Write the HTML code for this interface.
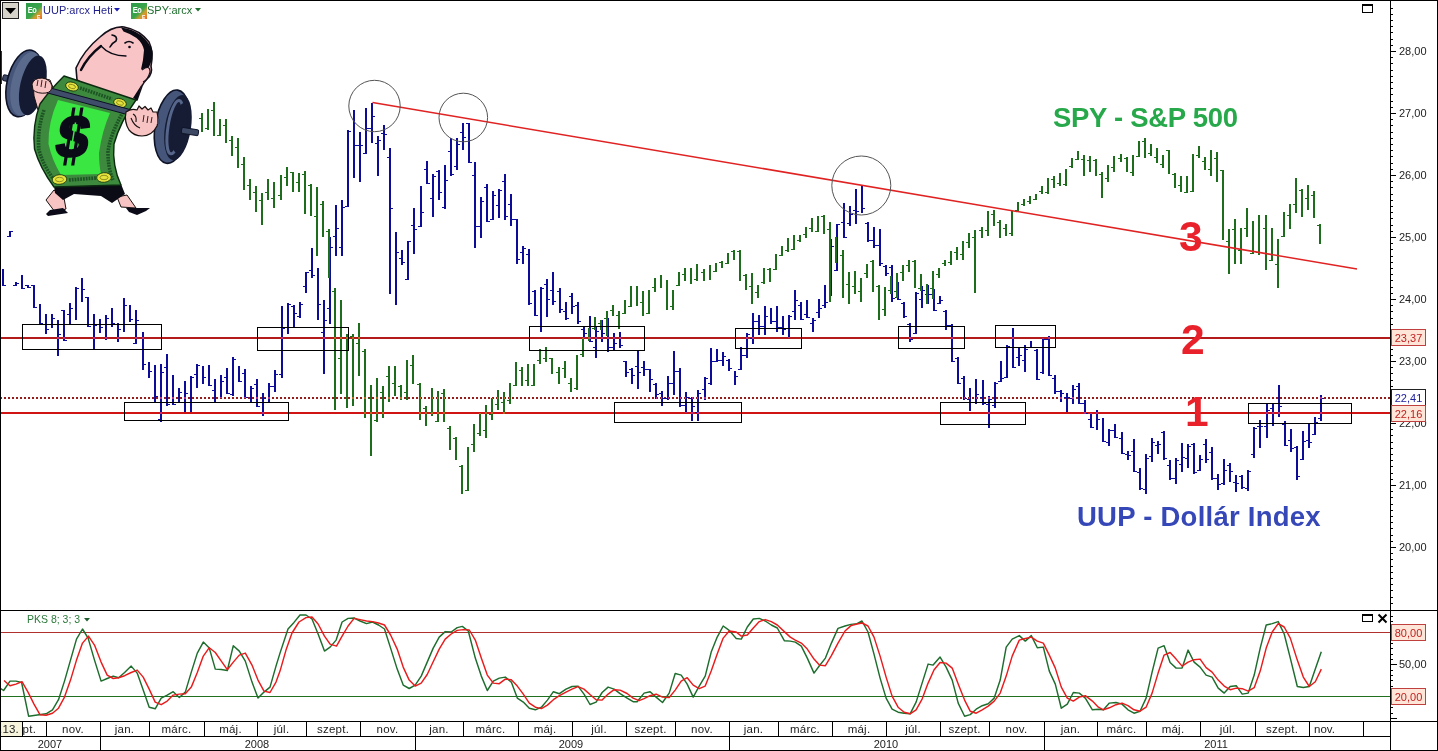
<!DOCTYPE html>
<html><head><meta charset="utf-8"><title>chart</title>
<style>
html,body{margin:0;padding:0;background:#fff;}
body{width:1438px;height:751px;position:relative;overflow:hidden;font-family:"Liberation Sans",sans-serif;}
.t{position:absolute;white-space:nowrap;line-height:1.15;}
.b{position:absolute;left:1391px;width:33px;height:15px;border:1px solid;font-size:11px;line-height:16px;text-align:center;white-space:nowrap;}
.m{position:absolute;font-size:11.5px;line-height:14px;color:#222;text-align:center;white-space:nowrap;}
</style></head><body><div id="root" style="position:absolute;left:0;top:0;width:1438px;height:751px;will-change:transform;background:#fff">
<svg width="1438" height="751" viewBox="0 0 1438 751" style="position:absolute;left:0;top:0"><g shape-rendering="crispEdges"><rect x="1" y="337" width="1389" height="2" fill="#b41a1a"/><rect x="1" y="412" width="1389" height="2" fill="#d01414"/><path d="M0 397h2v2h-2zM4 397h2v2h-2zM8 397h2v2h-2zM12 397h2v2h-2zM16 397h2v2h-2zM20 397h2v2h-2zM24 397h2v2h-2zM28 397h2v2h-2zM32 397h2v2h-2zM36 397h2v2h-2zM40 397h2v2h-2zM44 397h2v2h-2zM48 397h2v2h-2zM52 397h2v2h-2zM56 397h2v2h-2zM60 397h2v2h-2zM64 397h2v2h-2zM68 397h2v2h-2zM72 397h2v2h-2zM76 397h2v2h-2zM80 397h2v2h-2zM84 397h2v2h-2zM88 397h2v2h-2zM92 397h2v2h-2zM96 397h2v2h-2zM100 397h2v2h-2zM104 397h2v2h-2zM108 397h2v2h-2zM112 397h2v2h-2zM116 397h2v2h-2zM120 397h2v2h-2zM124 397h2v2h-2zM128 397h2v2h-2zM132 397h2v2h-2zM136 397h2v2h-2zM140 397h2v2h-2zM144 397h2v2h-2zM148 397h2v2h-2zM152 397h2v2h-2zM156 397h2v2h-2zM160 397h2v2h-2zM164 397h2v2h-2zM168 397h2v2h-2zM172 397h2v2h-2zM176 397h2v2h-2zM180 397h2v2h-2zM184 397h2v2h-2zM188 397h2v2h-2zM192 397h2v2h-2zM196 397h2v2h-2zM200 397h2v2h-2zM204 397h2v2h-2zM208 397h2v2h-2zM212 397h2v2h-2zM216 397h2v2h-2zM220 397h2v2h-2zM224 397h2v2h-2zM228 397h2v2h-2zM232 397h2v2h-2zM236 397h2v2h-2zM240 397h2v2h-2zM244 397h2v2h-2zM248 397h2v2h-2zM252 397h2v2h-2zM256 397h2v2h-2zM260 397h2v2h-2zM264 397h2v2h-2zM268 397h2v2h-2zM272 397h2v2h-2zM276 397h2v2h-2zM280 397h2v2h-2zM284 397h2v2h-2zM288 397h2v2h-2zM292 397h2v2h-2zM296 397h2v2h-2zM300 397h2v2h-2zM304 397h2v2h-2zM308 397h2v2h-2zM312 397h2v2h-2zM316 397h2v2h-2zM320 397h2v2h-2zM324 397h2v2h-2zM328 397h2v2h-2zM332 397h2v2h-2zM336 397h2v2h-2zM340 397h2v2h-2zM344 397h2v2h-2zM348 397h2v2h-2zM352 397h2v2h-2zM356 397h2v2h-2zM360 397h2v2h-2zM364 397h2v2h-2zM368 397h2v2h-2zM372 397h2v2h-2zM376 397h2v2h-2zM380 397h2v2h-2zM384 397h2v2h-2zM388 397h2v2h-2zM392 397h2v2h-2zM396 397h2v2h-2zM400 397h2v2h-2zM404 397h2v2h-2zM408 397h2v2h-2zM412 397h2v2h-2zM416 397h2v2h-2zM420 397h2v2h-2zM424 397h2v2h-2zM428 397h2v2h-2zM432 397h2v2h-2zM436 397h2v2h-2zM440 397h2v2h-2zM444 397h2v2h-2zM448 397h2v2h-2zM452 397h2v2h-2zM456 397h2v2h-2zM460 397h2v2h-2zM464 397h2v2h-2zM468 397h2v2h-2zM472 397h2v2h-2zM476 397h2v2h-2zM480 397h2v2h-2zM484 397h2v2h-2zM488 397h2v2h-2zM492 397h2v2h-2zM496 397h2v2h-2zM500 397h2v2h-2zM504 397h2v2h-2zM508 397h2v2h-2zM512 397h2v2h-2zM516 397h2v2h-2zM520 397h2v2h-2zM524 397h2v2h-2zM528 397h2v2h-2zM532 397h2v2h-2zM536 397h2v2h-2zM540 397h2v2h-2zM544 397h2v2h-2zM548 397h2v2h-2zM552 397h2v2h-2zM556 397h2v2h-2zM560 397h2v2h-2zM564 397h2v2h-2zM568 397h2v2h-2zM572 397h2v2h-2zM576 397h2v2h-2zM580 397h2v2h-2zM584 397h2v2h-2zM588 397h2v2h-2zM592 397h2v2h-2zM596 397h2v2h-2zM600 397h2v2h-2zM604 397h2v2h-2zM608 397h2v2h-2zM612 397h2v2h-2zM616 397h2v2h-2zM620 397h2v2h-2zM624 397h2v2h-2zM628 397h2v2h-2zM632 397h2v2h-2zM636 397h2v2h-2zM640 397h2v2h-2zM644 397h2v2h-2zM648 397h2v2h-2zM652 397h2v2h-2zM656 397h2v2h-2zM660 397h2v2h-2zM664 397h2v2h-2zM668 397h2v2h-2zM672 397h2v2h-2zM676 397h2v2h-2zM680 397h2v2h-2zM684 397h2v2h-2zM688 397h2v2h-2zM692 397h2v2h-2zM696 397h2v2h-2zM700 397h2v2h-2zM704 397h2v2h-2zM708 397h2v2h-2zM712 397h2v2h-2zM716 397h2v2h-2zM720 397h2v2h-2zM724 397h2v2h-2zM728 397h2v2h-2zM732 397h2v2h-2zM736 397h2v2h-2zM740 397h2v2h-2zM744 397h2v2h-2zM748 397h2v2h-2zM752 397h2v2h-2zM756 397h2v2h-2zM760 397h2v2h-2zM764 397h2v2h-2zM768 397h2v2h-2zM772 397h2v2h-2zM776 397h2v2h-2zM780 397h2v2h-2zM784 397h2v2h-2zM788 397h2v2h-2zM792 397h2v2h-2zM796 397h2v2h-2zM800 397h2v2h-2zM804 397h2v2h-2zM808 397h2v2h-2zM812 397h2v2h-2zM816 397h2v2h-2zM820 397h2v2h-2zM824 397h2v2h-2zM828 397h2v2h-2zM832 397h2v2h-2zM836 397h2v2h-2zM840 397h2v2h-2zM844 397h2v2h-2zM848 397h2v2h-2zM852 397h2v2h-2zM856 397h2v2h-2zM860 397h2v2h-2zM864 397h2v2h-2zM868 397h2v2h-2zM872 397h2v2h-2zM876 397h2v2h-2zM880 397h2v2h-2zM884 397h2v2h-2zM888 397h2v2h-2zM892 397h2v2h-2zM896 397h2v2h-2zM900 397h2v2h-2zM904 397h2v2h-2zM908 397h2v2h-2zM912 397h2v2h-2zM916 397h2v2h-2zM920 397h2v2h-2zM924 397h2v2h-2zM928 397h2v2h-2zM932 397h2v2h-2zM936 397h2v2h-2zM940 397h2v2h-2zM944 397h2v2h-2zM948 397h2v2h-2zM952 397h2v2h-2zM956 397h2v2h-2zM960 397h2v2h-2zM964 397h2v2h-2zM968 397h2v2h-2zM972 397h2v2h-2zM976 397h2v2h-2zM980 397h2v2h-2zM984 397h2v2h-2zM988 397h2v2h-2zM992 397h2v2h-2zM996 397h2v2h-2zM1000 397h2v2h-2zM1004 397h2v2h-2zM1008 397h2v2h-2zM1012 397h2v2h-2zM1016 397h2v2h-2zM1020 397h2v2h-2zM1024 397h2v2h-2zM1028 397h2v2h-2zM1032 397h2v2h-2zM1036 397h2v2h-2zM1040 397h2v2h-2zM1044 397h2v2h-2zM1048 397h2v2h-2zM1052 397h2v2h-2zM1056 397h2v2h-2zM1060 397h2v2h-2zM1064 397h2v2h-2zM1068 397h2v2h-2zM1072 397h2v2h-2zM1076 397h2v2h-2zM1080 397h2v2h-2zM1084 397h2v2h-2zM1088 397h2v2h-2zM1092 397h2v2h-2zM1096 397h2v2h-2zM1100 397h2v2h-2zM1104 397h2v2h-2zM1108 397h2v2h-2zM1112 397h2v2h-2zM1116 397h2v2h-2zM1120 397h2v2h-2zM1124 397h2v2h-2zM1128 397h2v2h-2zM1132 397h2v2h-2zM1136 397h2v2h-2zM1140 397h2v2h-2zM1144 397h2v2h-2zM1148 397h2v2h-2zM1152 397h2v2h-2zM1156 397h2v2h-2zM1160 397h2v2h-2zM1164 397h2v2h-2zM1168 397h2v2h-2zM1172 397h2v2h-2zM1176 397h2v2h-2zM1180 397h2v2h-2zM1184 397h2v2h-2zM1188 397h2v2h-2zM1192 397h2v2h-2zM1196 397h2v2h-2zM1200 397h2v2h-2zM1204 397h2v2h-2zM1208 397h2v2h-2zM1212 397h2v2h-2zM1216 397h2v2h-2zM1220 397h2v2h-2zM1224 397h2v2h-2zM1228 397h2v2h-2zM1232 397h2v2h-2zM1236 397h2v2h-2zM1240 397h2v2h-2zM1244 397h2v2h-2zM1248 397h2v2h-2zM1252 397h2v2h-2zM1256 397h2v2h-2zM1260 397h2v2h-2zM1264 397h2v2h-2zM1268 397h2v2h-2zM1272 397h2v2h-2zM1276 397h2v2h-2zM1280 397h2v2h-2zM1284 397h2v2h-2zM1288 397h2v2h-2zM1292 397h2v2h-2zM1296 397h2v2h-2zM1300 397h2v2h-2zM1304 397h2v2h-2zM1308 397h2v2h-2zM1312 397h2v2h-2zM1316 397h2v2h-2zM1320 397h2v2h-2zM1324 397h2v2h-2zM1328 397h2v2h-2zM1332 397h2v2h-2zM1336 397h2v2h-2zM1340 397h2v2h-2zM1344 397h2v2h-2zM1348 397h2v2h-2zM1352 397h2v2h-2zM1356 397h2v2h-2zM1360 397h2v2h-2zM1364 397h2v2h-2zM1368 397h2v2h-2zM1372 397h2v2h-2zM1376 397h2v2h-2zM1380 397h2v2h-2zM1384 397h2v2h-2zM1388 397h2v2h-2z" fill="#961c1c"/><path d="M2 269h2V286h-2zM4 285h2v1h-2zM9 231h2V237h-2zM7 236h2v1h-2zM11 231h2v1h-2zM15 282h2V286h-2zM13 285h2v1h-2zM17 283h2v1h-2zM21 275h2V289h-2zM23 288h2v1h-2zM27 285h2V288h-2zM25 285h2v1h-2zM29 287h2v1h-2zM33 285h2V308h-2zM31 285h2v1h-2zM35 307h2v1h-2zM39 304h2V324h-2zM41 323h2v1h-2zM45 314h2V334h-2zM47 329h2v1h-2zM51 314h2V328h-2zM53 318h2v1h-2zM57 320h2V356h-2zM59 334h2v1h-2zM63 310h2V341h-2zM61 310h2v1h-2zM65 340h2v1h-2zM69 303h2V324h-2zM67 314h2v1h-2zM71 308h2v1h-2zM75 287h2V320h-2zM77 288h2v1h-2zM81 278h2V302h-2zM83 289h2v1h-2zM87 297h2V327h-2zM85 297h2v1h-2zM89 326h2v1h-2zM93 314h2V349h-2zM95 325h2v1h-2zM99 319h2V333h-2zM101 327h2v1h-2zM105 315h2V340h-2zM107 318h2v1h-2zM111 308h2V327h-2zM113 323h2v1h-2zM117 323h2V342h-2zM119 329h2v1h-2zM123 298h2V332h-2zM125 305h2v1h-2zM129 305h2V322h-2zM131 319h2v1h-2zM135 310h2V344h-2zM133 343h2v1h-2zM137 320h2v1h-2zM142 332h2V370h-2zM144 364h2v1h-2zM148 362h2V378h-2zM150 371h2v1h-2zM154 365h2V402h-2zM156 396h2v1h-2zM160 364h2V422h-2zM158 419h2v1h-2zM162 372h2v1h-2zM166 354h2V406h-2zM164 367h2v1h-2zM168 404h2v1h-2zM172 375h2V405h-2zM174 404h2v1h-2zM178 388h2V402h-2zM180 392h2v1h-2zM184 381h2V412h-2zM186 393h2v1h-2zM190 376h2V412h-2zM192 377h2v1h-2zM196 364h2V388h-2zM194 374h2v1h-2zM198 365h2v1h-2zM202 366h2V384h-2zM204 377h2v1h-2zM208 365h2V386h-2zM210 385h2v1h-2zM214 379h2V403h-2zM212 390h2v1h-2zM216 402h2v1h-2zM220 375h2V398h-2zM222 381h2v1h-2zM226 368h2V394h-2zM224 377h2v1h-2zM228 393h2v1h-2zM232 357h2V396h-2zM230 394h2v1h-2zM234 359h2v1h-2zM238 366h2V382h-2zM240 381h2v1h-2zM244 369h2V398h-2zM242 373h2v1h-2zM246 397h2v1h-2zM250 386h2V402h-2zM252 388h2v1h-2zM256 379h2V407h-2zM254 384h2v1h-2zM258 406h2v1h-2zM262 393h2V416h-2zM264 398h2v1h-2zM268 383h2V402h-2zM270 386h2v1h-2zM274 370h2V392h-2zM272 386h2v1h-2zM276 374h2v1h-2zM281 306h2V378h-2zM279 374h2v1h-2zM283 328h2v1h-2zM287 303h2V334h-2zM285 327h2v1h-2zM289 304h2v1h-2zM293 305h2V327h-2zM291 306h2v1h-2zM295 313h2v1h-2zM299 302h2V318h-2zM297 316h2v1h-2zM301 304h2v1h-2zM305 272h2V293h-2zM303 286h2v1h-2zM307 272h2v1h-2zM311 248h2V278h-2zM309 270h2v1h-2zM313 275h2v1h-2zM317 268h2V320h-2zM319 304h2v1h-2zM323 300h2V374h-2zM321 332h2v1h-2zM325 320h2v1h-2zM329 237h2V324h-2zM327 308h2v1h-2zM331 247h2v1h-2zM335 205h2V256h-2zM333 236h2v1h-2zM337 228h2v1h-2zM341 200h2V256h-2zM339 247h2v1h-2zM343 207h2v1h-2zM347 130h2V207h-2zM345 206h2v1h-2zM349 131h2v1h-2zM353 110h2V178h-2zM355 145h2v1h-2zM359 132h2V182h-2zM357 145h2v1h-2zM361 145h2v1h-2zM365 108h2V154h-2zM363 153h2v1h-2zM367 128h2v1h-2zM371 103h2V143h-2zM369 128h2v1h-2zM373 116h2v1h-2zM377 136h2V176h-2zM375 143h2v1h-2zM379 140h2v1h-2zM383 125h2V150h-2zM381 133h2v1h-2zM385 134h2v1h-2zM389 148h2V294h-2zM387 157h2v1h-2zM391 208h2v1h-2zM395 232h2V305h-2zM397 252h2v1h-2zM401 250h2V265h-2zM399 258h2v1h-2zM403 262h2v1h-2zM407 241h2V280h-2zM405 279h2v1h-2zM409 241h2v1h-2zM413 208h2V254h-2zM411 225h2v1h-2zM415 229h2v1h-2zM420 186h2V227h-2zM418 226h2v1h-2zM422 212h2v1h-2zM426 161h2V184h-2zM424 169h2v1h-2zM428 183h2v1h-2zM432 174h2V217h-2zM430 198h2v1h-2zM434 176h2v1h-2zM438 170h2V200h-2zM436 171h2v1h-2zM440 192h2v1h-2zM444 165h2V209h-2zM442 207h2v1h-2zM446 180h2v1h-2zM450 138h2V176h-2zM448 151h2v1h-2zM452 174h2v1h-2zM456 138h2V170h-2zM454 166h2v1h-2zM458 144h2v1h-2zM462 123h2V150h-2zM460 132h2v1h-2zM464 137h2v1h-2zM468 123h2V163h-2zM466 123h2v1h-2zM470 162h2v1h-2zM474 162h2V248h-2zM472 175h2v1h-2zM476 226h2v1h-2zM480 197h2V238h-2zM478 226h2v1h-2zM482 201h2v1h-2zM486 184h2V222h-2zM484 187h2v1h-2zM488 221h2v1h-2zM492 191h2V220h-2zM490 219h2v1h-2zM494 195h2v1h-2zM498 189h2V218h-2zM496 205h2v1h-2zM500 190h2v1h-2zM504 174h2V220h-2zM502 181h2v1h-2zM506 216h2v1h-2zM510 194h2V226h-2zM508 204h2v1h-2zM512 219h2v1h-2zM516 219h2V264h-2zM514 219h2v1h-2zM518 259h2v1h-2zM522 246h2V264h-2zM520 252h2v1h-2zM524 248h2v1h-2zM528 249h2V305h-2zM526 254h2v1h-2zM530 303h2v1h-2zM534 290h2V316h-2zM532 291h2v1h-2zM536 315h2v1h-2zM540 287h2V332h-2zM542 288h2v1h-2zM546 279h2V317h-2zM544 284h2v1h-2zM548 299h2v1h-2zM552 272h2V305h-2zM550 290h2v1h-2zM554 301h2v1h-2zM559 288h2V313h-2zM557 291h2v1h-2zM561 309h2v1h-2zM565 302h2V320h-2zM563 311h2v1h-2zM567 318h2v1h-2zM571 293h2V314h-2zM569 296h2v1h-2zM573 306h2v1h-2zM577 302h2V324h-2zM575 305h2v1h-2zM579 321h2v1h-2zM583 327h2V338h-2zM581 329h2v1h-2zM585 333h2v1h-2zM589 316h2V342h-2zM591 341h2v1h-2zM595 327h2V358h-2zM593 347h2v1h-2zM597 331h2v1h-2zM601 320h2V342h-2zM603 333h2v1h-2zM607 318h2V352h-2zM609 347h2v1h-2zM613 333h2V350h-2zM611 347h2v1h-2zM615 343h2v1h-2zM619 332h2V348h-2zM621 345h2v1h-2zM625 361h2V377h-2zM623 361h2v1h-2zM627 372h2v1h-2zM631 368h2V384h-2zM629 369h2v1h-2zM633 375h2v1h-2zM637 351h2V389h-2zM635 366h2v1h-2zM639 372h2v1h-2zM643 361h2V376h-2zM641 367h2v1h-2zM645 369h2v1h-2zM649 369h2V392h-2zM647 369h2v1h-2zM651 379h2v1h-2zM655 383h2V399h-2zM653 384h2v1h-2zM657 394h2v1h-2zM661 391h2V406h-2zM659 393h2v1h-2zM663 398h2v1h-2zM667 376h2V400h-2zM665 398h2v1h-2zM669 383h2v1h-2zM673 351h2V395h-2zM671 383h2v1h-2zM675 371h2v1h-2zM679 368h2V407h-2zM677 371h2v1h-2zM681 405h2v1h-2zM685 392h2V413h-2zM683 405h2v1h-2zM687 397h2v1h-2zM691 397h2V421h-2zM689 398h2v1h-2zM693 406h2v1h-2zM697 390h2V421h-2zM695 412h2v1h-2zM699 393h2v1h-2zM704 377h2V400h-2zM702 389h2v1h-2zM706 378h2v1h-2zM710 348h2V385h-2zM708 383h2v1h-2zM712 361h2v1h-2zM716 349h2V362h-2zM714 361h2v1h-2zM718 360h2v1h-2zM722 352h2V366h-2zM720 360h2v1h-2zM724 356h2v1h-2zM728 359h2V371h-2zM726 360h2v1h-2zM730 368h2v1h-2zM734 371h2V385h-2zM736 376h2v1h-2zM740 347h2V370h-2zM738 369h2v1h-2zM742 355h2v1h-2zM746 333h2V358h-2zM744 355h2v1h-2zM748 334h2v1h-2zM752 313h2V344h-2zM750 338h2v1h-2zM754 321h2v1h-2zM758 315h2V335h-2zM756 321h2v1h-2zM760 326h2v1h-2zM764 306h2V335h-2zM762 326h2v1h-2zM766 316h2v1h-2zM770 308h2V324h-2zM772 321h2v1h-2zM776 306h2V332h-2zM774 321h2v1h-2zM778 327h2v1h-2zM782 316h2V335h-2zM780 327h2v1h-2zM784 329h2v1h-2zM788 315h2V338h-2zM786 328h2v1h-2zM790 316h2v1h-2zM794 290h2V320h-2zM792 311h2v1h-2zM796 300h2v1h-2zM800 302h2V320h-2zM798 305h2v1h-2zM802 319h2v1h-2zM806 300h2V318h-2zM804 314h2v1h-2zM808 317h2v1h-2zM812 318h2V332h-2zM810 323h2v1h-2zM814 320h2v1h-2zM818 299h2V318h-2zM816 312h2v1h-2zM820 308h2v1h-2zM824 285h2V308h-2zM822 305h2v1h-2zM826 302h2v1h-2zM830 239h2V296h-2zM832 246h2v1h-2zM836 224h2V271h-2zM834 270h2v1h-2zM838 224h2v1h-2zM843 203h2V238h-2zM841 222h2v1h-2zM845 237h2v1h-2zM849 206h2V226h-2zM847 223h2v1h-2zM851 214h2v1h-2zM855 189h2V224h-2zM853 210h2v1h-2zM857 211h2v1h-2zM861 186h2V213h-2zM863 208h2v1h-2zM867 222h2V242h-2zM865 223h2v1h-2zM869 240h2v1h-2zM873 227h2V248h-2zM871 240h2v1h-2zM875 245h2v1h-2zM879 229h2V266h-2zM877 245h2v1h-2zM881 263h2v1h-2zM885 265h2V276h-2zM883 266h2v1h-2zM887 273h2v1h-2zM891 265h2V302h-2zM889 267h2v1h-2zM893 298h2v1h-2zM897 282h2V300h-2zM895 297h2v1h-2zM899 299h2v1h-2zM903 302h2V318h-2zM901 303h2v1h-2zM905 316h2v1h-2zM909 323h2V342h-2zM907 324h2v1h-2zM911 339h2v1h-2zM915 292h2V334h-2zM913 333h2v1h-2zM917 293h2v1h-2zM921 286h2V308h-2zM919 299h2v1h-2zM923 290h2v1h-2zM927 285h2V304h-2zM925 294h2v1h-2zM929 294h2v1h-2zM933 289h2V311h-2zM931 294h2v1h-2zM935 310h2v1h-2zM939 296h2V304h-2zM937 303h2v1h-2zM941 300h2v1h-2zM945 310h2V330h-2zM943 311h2v1h-2zM947 325h2v1h-2zM951 324h2V362h-2zM949 325h2v1h-2zM953 361h2v1h-2zM957 357h2V384h-2zM955 358h2v1h-2zM959 383h2v1h-2zM963 376h2V400h-2zM961 378h2v1h-2zM965 398h2v1h-2zM969 388h2V411h-2zM967 399h2v1h-2zM971 402h2v1h-2zM975 379h2V404h-2zM973 402h2v1h-2zM977 394h2v1h-2zM982 380h2V405h-2zM980 397h2v1h-2zM984 403h2v1h-2zM988 396h2V428h-2zM986 404h2v1h-2zM990 399h2v1h-2zM994 382h2V408h-2zM992 405h2v1h-2zM996 383h2v1h-2zM1000 361h2V382h-2zM998 381h2v1h-2zM1002 378h2v1h-2zM1006 345h2V378h-2zM1004 377h2v1h-2zM1008 346h2v1h-2zM1012 328h2V368h-2zM1010 347h2v1h-2zM1014 367h2v1h-2zM1018 347h2V366h-2zM1016 357h2v1h-2zM1020 355h2v1h-2zM1024 345h2V372h-2zM1022 360h2v1h-2zM1026 349h2v1h-2zM1030 341h2V348h-2zM1028 347h2v1h-2zM1032 347h2v1h-2zM1036 349h2V380h-2zM1034 350h2v1h-2zM1038 379h2v1h-2zM1042 338h2V374h-2zM1040 372h2v1h-2zM1044 339h2v1h-2zM1048 336h2V376h-2zM1046 339h2v1h-2zM1050 375h2v1h-2zM1054 375h2V394h-2zM1052 378h2v1h-2zM1056 391h2v1h-2zM1060 390h2V402h-2zM1058 391h2v1h-2zM1062 393h2v1h-2zM1066 393h2V412h-2zM1064 397h2v1h-2zM1068 397h2v1h-2zM1072 385h2V404h-2zM1070 398h2v1h-2zM1074 389h2v1h-2zM1078 383h2V404h-2zM1076 386h2v1h-2zM1080 403h2v1h-2zM1084 400h2V414h-2zM1082 403h2v1h-2zM1086 413h2v1h-2zM1090 413h2V428h-2zM1088 419h2v1h-2zM1092 427h2v1h-2zM1096 410h2V430h-2zM1098 419h2v1h-2zM1102 418h2V442h-2zM1104 441h2v1h-2zM1108 429h2V446h-2zM1106 442h2v1h-2zM1110 430h2v1h-2zM1114 424h2V438h-2zM1112 430h2v1h-2zM1116 437h2v1h-2zM1121 432h2V454h-2zM1119 438h2v1h-2zM1123 453h2v1h-2zM1127 451h2V460h-2zM1125 454h2v1h-2zM1129 455h2v1h-2zM1133 439h2V472h-2zM1131 451h2v1h-2zM1135 471h2v1h-2zM1139 468h2V490h-2zM1137 472h2v1h-2zM1141 488h2v1h-2zM1145 454h2V494h-2zM1143 489h2v1h-2zM1147 458h2v1h-2zM1151 438h2V462h-2zM1149 456h2v1h-2zM1153 442h2v1h-2zM1157 441h2V454h-2zM1155 445h2v1h-2zM1159 444h2v1h-2zM1163 431h2V460h-2zM1161 432h2v1h-2zM1165 458h2v1h-2zM1169 460h2V480h-2zM1167 465h2v1h-2zM1171 478h2v1h-2zM1175 458h2V484h-2zM1173 478h2v1h-2zM1177 460h2v1h-2zM1181 443h2V472h-2zM1179 464h2v1h-2zM1183 457h2v1h-2zM1187 444h2V468h-2zM1185 458h2v1h-2zM1189 446h2v1h-2zM1193 443h2V474h-2zM1191 444h2v1h-2zM1195 472h2v1h-2zM1199 455h2V471h-2zM1197 470h2v1h-2zM1201 459h2v1h-2zM1205 439h2V463h-2zM1203 444h2v1h-2zM1207 459h2v1h-2zM1211 447h2V480h-2zM1209 452h2v1h-2zM1213 478h2v1h-2zM1217 474h2V490h-2zM1215 478h2v1h-2zM1219 484h2v1h-2zM1223 459h2V485h-2zM1221 483h2v1h-2zM1225 470h2v1h-2zM1229 463h2V482h-2zM1227 465h2v1h-2zM1231 471h2v1h-2zM1235 475h2V492h-2zM1233 482h2v1h-2zM1237 483h2v1h-2zM1241 475h2V489h-2zM1239 476h2v1h-2zM1243 487h2v1h-2zM1247 470h2V491h-2zM1245 488h2v1h-2zM1249 471h2v1h-2zM1253 427h2V458h-2zM1251 454h2v1h-2zM1255 428h2v1h-2zM1259 420h2V448h-2zM1257 426h2v1h-2zM1261 426h2v1h-2zM1266 404h2V438h-2zM1264 426h2v1h-2zM1268 410h2v1h-2zM1272 404h2V426h-2zM1270 408h2v1h-2zM1278 385h2V417h-2zM1280 406h2v1h-2zM1284 421h2V446h-2zM1282 424h2v1h-2zM1286 445h2v1h-2zM1290 429h2V452h-2zM1288 440h2v1h-2zM1292 448h2v1h-2zM1296 446h2V480h-2zM1294 447h2v1h-2zM1298 476h2v1h-2zM1302 431h2V460h-2zM1300 459h2v1h-2zM1304 441h2v1h-2zM1308 424h2V448h-2zM1306 440h2v1h-2zM1310 442h2v1h-2zM1314 417h2V435h-2zM1312 434h2v1h-2zM1316 422h2v1h-2zM1320 395h2V421h-2zM1318 418h2v1h-2zM1322 398h2v1h-2z" fill="#0c0c98"/><path d="M201 113h2V132h-2zM199 118h2v1h-2zM207 109h2V130h-2zM205 128h2v1h-2zM213 102h2V136h-2zM211 110h2v1h-2zM219 119h2V136h-2zM217 135h2v1h-2zM225 119h2V143h-2zM223 125h2v1h-2zM231 136h2V156h-2zM229 140h2v1h-2zM237 138h2V168h-2zM235 147h2v1h-2zM243 157h2V190h-2zM241 164h2v1h-2zM249 179h2V200h-2zM247 185h2v1h-2zM255 186h2V212h-2zM253 192h2v1h-2zM261 193h2V225h-2zM259 200h2v1h-2zM267 179h2V200h-2zM265 192h2v1h-2zM273 182h2V208h-2zM271 198h2v1h-2zM280 175h2V200h-2zM278 195h2v1h-2zM286 167h2V186h-2zM284 177h2v1h-2zM292 172h2V192h-2zM290 172h2v1h-2zM298 173h2V192h-2zM296 182h2v1h-2zM304 171h2V214h-2zM302 174h2v1h-2zM310 184h2V216h-2zM308 185h2v1h-2zM316 187h2V256h-2zM314 216h2v1h-2zM322 201h2V237h-2zM320 204h2v1h-2zM328 229h2V278h-2zM326 231h2v1h-2zM334 288h2V410h-2zM332 291h2v1h-2zM340 300h2V394h-2zM338 358h2v1h-2zM346 334h2V408h-2zM352 334h2V406h-2zM350 336h2v1h-2zM358 323h2V376h-2zM356 343h2v1h-2zM364 349h2V418h-2zM362 351h2v1h-2zM370 385h2V456h-2zM368 398h2v1h-2zM376 378h2V422h-2zM374 420h2v1h-2zM382 386h2V418h-2zM380 392h2v1h-2zM388 366h2V402h-2zM386 376h2v1h-2zM394 366h2V396h-2zM392 383h2v1h-2zM400 385h2V400h-2zM398 386h2v1h-2zM406 360h2V400h-2zM404 392h2v1h-2zM412 355h2V384h-2zM410 365h2v1h-2zM419 383h2V420h-2zM417 384h2v1h-2zM425 406h2V426h-2zM423 408h2v1h-2zM431 388h2V416h-2zM429 412h2v1h-2zM437 391h2V422h-2zM435 421h2v1h-2zM443 389h2V422h-2zM441 393h2v1h-2zM449 426h2V450h-2zM447 428h2v1h-2zM455 437h2V460h-2zM453 438h2v1h-2zM461 465h2V494h-2zM459 466h2v1h-2zM467 447h2V491h-2zM465 490h2v1h-2zM473 424h2V452h-2zM471 444h2v1h-2zM479 413h2V436h-2zM477 433h2v1h-2zM485 405h2V438h-2zM483 430h2v1h-2zM491 398h2V420h-2zM489 414h2v1h-2zM497 390h2V410h-2zM495 404h2v1h-2zM503 392h2V414h-2zM501 402h2v1h-2zM509 383h2V404h-2zM507 400h2v1h-2zM515 362h2V386h-2zM513 385h2v1h-2zM521 367h2V386h-2zM519 370h2v1h-2zM527 364h2V386h-2zM525 380h2v1h-2zM533 364h2V386h-2zM531 385h2v1h-2zM539 349h2V364h-2zM537 360h2v1h-2zM545 347h2V362h-2zM543 358h2v1h-2zM551 358h2V374h-2zM549 358h2v1h-2zM558 367h2V384h-2zM556 372h2v1h-2zM564 361h2V378h-2zM562 368h2v1h-2zM570 378h2V392h-2zM568 383h2v1h-2zM576 355h2V390h-2zM574 388h2v1h-2zM582 338h2V357h-2zM580 354h2v1h-2zM588 328h2V341h-2zM594 317h2V330h-2zM592 328h2v1h-2zM600 320h2V330h-2zM598 323h2v1h-2zM606 311h2V336h-2zM604 318h2v1h-2zM612 305h2V316h-2zM610 310h2v1h-2zM618 311h2V329h-2zM616 315h2v1h-2zM624 300h2V314h-2zM622 313h2v1h-2zM630 286h2V307h-2zM628 306h2v1h-2zM636 286h2V306h-2zM642 291h2V316h-2zM640 302h2v1h-2zM648 290h2V314h-2zM646 313h2v1h-2zM654 278h2V292h-2zM652 287h2v1h-2zM660 275h2V288h-2zM666 280h2V310h-2zM672 290h2V310h-2zM670 306h2v1h-2zM678 272h2V286h-2zM676 285h2v1h-2zM684 268h2V281h-2zM682 274h2v1h-2zM690 268h2V284h-2zM696 264h2V281h-2zM694 279h2v1h-2zM703 269h2V281h-2zM701 272h2v1h-2zM709 265h2V280h-2zM715 263h2V272h-2zM713 271h2v1h-2zM721 261h2V268h-2zM719 262h2v1h-2zM727 253h2V264h-2zM725 263h2v1h-2zM733 250h2V260h-2zM731 251h2v1h-2zM739 250h2V281h-2zM737 251h2v1h-2zM745 274h2V290h-2zM743 275h2v1h-2zM751 273h2V304h-2zM749 286h2v1h-2zM757 285h2V298h-2zM755 292h2v1h-2zM763 268h2V284h-2zM761 282h2v1h-2zM769 268h2V282h-2zM767 269h2v1h-2zM775 254h2V270h-2zM773 269h2v1h-2zM781 246h2V256h-2zM779 255h2v1h-2zM787 238h2V252h-2zM785 250h2v1h-2zM793 235h2V250h-2zM791 249h2v1h-2zM799 235h2V242h-2zM797 240h2v1h-2zM805 227h2V238h-2zM803 234h2v1h-2zM811 218h2V232h-2zM809 228h2v1h-2zM817 216h2V232h-2zM815 231h2v1h-2zM823 215h2V234h-2zM821 216h2v1h-2zM829 222h2V302h-2zM827 229h2v1h-2zM835 237h2V263h-2zM842 250h2V298h-2zM840 255h2v1h-2zM848 272h2V304h-2zM846 284h2v1h-2zM854 271h2V294h-2zM852 286h2v1h-2zM860 278h2V302h-2zM858 291h2v1h-2zM866 264h2V278h-2zM864 273h2v1h-2zM872 260h2V292h-2zM870 261h2v1h-2zM878 285h2V320h-2zM876 286h2v1h-2zM884 287h2V316h-2zM882 309h2v1h-2zM890 276h2V294h-2zM888 290h2v1h-2zM896 273h2V298h-2zM894 291h2v1h-2zM902 265h2V281h-2zM900 272h2v1h-2zM908 260h2V272h-2zM906 265h2v1h-2zM914 260h2V288h-2zM912 261h2v1h-2zM920 274h2V291h-2zM918 288h2v1h-2zM926 284h2V304h-2zM932 271h2V299h-2zM930 288h2v1h-2zM938 268h2V278h-2zM936 274h2v1h-2zM944 260h2V266h-2zM942 263h2v1h-2zM950 251h2V265h-2zM948 262h2v1h-2zM956 247h2V260h-2zM954 252h2v1h-2zM962 241h2V260h-2zM960 254h2v1h-2zM968 233h2V248h-2zM966 242h2v1h-2zM974 230h2V293h-2zM972 237h2v1h-2zM981 227h2V238h-2zM979 230h2v1h-2zM987 211h2V236h-2zM985 230h2v1h-2zM993 210h2V226h-2zM991 214h2v1h-2zM999 220h2V238h-2zM997 222h2v1h-2zM1005 224h2V236h-2zM1003 228h2v1h-2zM1011 211h2V236h-2zM1009 233h2v1h-2zM1017 202h2V212h-2zM1015 210h2v1h-2zM1023 199h2V206h-2zM1021 204h2v1h-2zM1029 196h2V204h-2zM1027 201h2v1h-2zM1035 194h2V200h-2zM1033 199h2v1h-2zM1041 186h2V194h-2zM1039 191h2v1h-2zM1047 178h2V194h-2zM1045 192h2v1h-2zM1053 176h2V188h-2zM1051 179h2v1h-2zM1059 173h2V186h-2zM1057 183h2v1h-2zM1065 169h2V186h-2zM1063 184h2v1h-2zM1071 158h2V168h-2zM1069 166h2v1h-2zM1077 151h2V160h-2zM1075 159h2v1h-2zM1083 155h2V176h-2zM1081 159h2v1h-2zM1089 156h2V172h-2zM1087 160h2v1h-2zM1095 159h2V176h-2zM1093 160h2v1h-2zM1101 172h2V198h-2zM1099 174h2v1h-2zM1107 165h2V182h-2zM1105 178h2v1h-2zM1113 156h2V172h-2zM1111 167h2v1h-2zM1120 154h2V162h-2zM1118 158h2v1h-2zM1126 157h2V172h-2zM1124 158h2v1h-2zM1132 155h2V176h-2zM1130 172h2v1h-2zM1138 141h2V157h-2zM1136 156h2v1h-2zM1144 138h2V158h-2zM1142 141h2v1h-2zM1150 144h2V156h-2zM1148 153h2v1h-2zM1156 148h2V163h-2zM1154 157h2v1h-2zM1162 155h2V168h-2zM1160 164h2v1h-2zM1168 150h2V174h-2zM1166 150h2v1h-2zM1174 173h2V188h-2zM1172 174h2v1h-2zM1180 176h2V192h-2zM1178 185h2v1h-2zM1186 176h2V193h-2zM1184 192h2v1h-2zM1192 154h2V192h-2zM1190 191h2v1h-2zM1198 146h2V158h-2zM1196 155h2v1h-2zM1204 157h2V170h-2zM1202 161h2v1h-2zM1210 150h2V176h-2zM1208 169h2v1h-2zM1216 152h2V182h-2zM1214 158h2v1h-2zM1222 170h2V240h-2zM1220 170h2v1h-2zM1228 229h2V274h-2zM1226 241h2v1h-2zM1234 219h2V264h-2zM1232 229h2v1h-2zM1240 228h2V264h-2zM1238 250h2v1h-2zM1246 208h2V237h-2zM1244 228h2v1h-2zM1252 221h2V254h-2zM1250 253h2v1h-2zM1258 215h2V255h-2zM1256 252h2v1h-2zM1265 215h2V270h-2zM1263 228h2v1h-2zM1271 228h2V261h-2zM1269 260h2v1h-2zM1277 239h2V288h-2zM1275 264h2v1h-2zM1283 212h2V237h-2zM1281 236h2v1h-2zM1289 204h2V229h-2zM1287 215h2v1h-2zM1295 178h2V213h-2zM1293 204h2v1h-2zM1301 189h2V217h-2zM1299 190h2v1h-2zM1307 185h2V210h-2zM1305 198h2v1h-2zM1313 191h2V218h-2zM1311 195h2v1h-2zM1319 224h2V244h-2zM1317 225h2v1h-2z" fill="#1d6d1d"/><path d="M57 337h2v2h-2zM63 337h2v2h-2zM93 337h2v2h-2zM105 337h2v2h-2zM117 337h2v2h-2zM135 337h2v2h-2zM142 337h2v2h-2zM281 337h2v2h-2zM323 337h2v2h-2zM583 337h2v1h-2zM589 337h2v2h-2zM595 337h2v2h-2zM601 337h2v2h-2zM607 337h2v2h-2zM613 337h2v2h-2zM619 337h2v2h-2zM746 337h2v2h-2zM752 337h2v2h-2zM788 337h2v1h-2zM909 337h2v2h-2zM951 337h2v2h-2zM1012 337h2v2h-2zM1042 338h2v1h-2zM1048 337h2v2h-2zM160 412h2v2h-2zM262 412h2v2h-2zM685 412h2v1h-2zM691 412h2v2h-2zM697 412h2v2h-2zM988 412h2v2h-2zM1084 412h2v2h-2zM1090 413h2v1h-2zM1096 412h2v2h-2zM1266 412h2v2h-2zM1272 412h2v2h-2zM1278 412h2v2h-2zM1320 412h2v2h-2zM160 397h1v2h-1zM161 397h1v2h-1zM172 397h1v2h-1zM173 397h1v2h-1zM184 397h1v2h-1zM185 397h1v2h-1zM220 397h1v1h-1zM221 397h1v1h-1zM244 397h1v1h-1zM245 397h1v1h-1zM256 397h1v2h-1zM257 397h1v2h-1zM268 397h1v2h-1zM269 397h1v2h-1zM656 397h1v2h-1zM661 397h1v2h-1zM668 397h1v2h-1zM680 397h1v2h-1zM685 397h1v2h-1zM692 397h1v2h-1zM697 397h1v2h-1zM704 397h1v2h-1zM705 397h1v2h-1zM964 397h1v2h-1zM969 397h1v2h-1zM976 397h1v2h-1zM988 397h1v2h-1zM989 397h1v2h-1zM1060 397h1v2h-1zM1061 397h1v2h-1zM1072 397h1v2h-1zM1073 397h1v2h-1zM1320 397h1v2h-1zM1321 397h1v2h-1z" fill="#b2308c"/><path d="M334 337h2v2h-2zM340 337h2v2h-2zM346 337h2v2h-2zM352 337h2v2h-2zM358 337h2v2h-2zM582 338h2v1h-2zM588 337h2v2h-2zM364 412h2v2h-2zM370 412h2v2h-2zM376 412h2v2h-2zM382 412h2v2h-2zM419 412h2v2h-2zM425 412h2v2h-2zM431 412h2v2h-2zM437 412h2v2h-2zM443 412h2v2h-2zM479 413h2v1h-2zM485 412h2v2h-2zM491 412h2v2h-2zM503 412h2v2h-2zM352 397h1v2h-1zM353 397h1v2h-1zM364 397h1v2h-1zM365 397h1v2h-1zM376 397h1v2h-1zM377 397h1v2h-1zM388 397h1v2h-1zM389 397h1v2h-1zM400 397h1v2h-1zM401 397h1v2h-1zM420 397h1v2h-1zM432 397h1v2h-1zM437 397h1v2h-1zM444 397h1v2h-1zM492 398h1v1h-1zM497 397h1v2h-1zM504 397h1v2h-1zM509 397h1v2h-1z" fill="#b26a22"/><rect x="0" y="51" width="2" height="33" fill="#0f4a0f"/><path d="M22 324h140v26h-140zM23 325v24h138v-24z" fill="#000" fill-rule="evenodd"/><path d="M124 402h165v19h-165zM125 403v17h163v-17z" fill="#000" fill-rule="evenodd"/><path d="M257 327h92v24h-92zM258 328v22h90v-22z" fill="#000" fill-rule="evenodd"/><path d="M529 326h116v25h-116zM530 327v23h114v-23z" fill="#000" fill-rule="evenodd"/><path d="M614 402h128v21h-128zM615 403v19h126v-19z" fill="#000" fill-rule="evenodd"/><path d="M735 328h67v21h-67zM736 329v19h65v-19z" fill="#000" fill-rule="evenodd"/><path d="M898 326h67v23h-67zM899 327v21h65v-21z" fill="#000" fill-rule="evenodd"/><path d="M995 325h61v23h-61zM996 326v21h59v-21z" fill="#000" fill-rule="evenodd"/><path d="M940 402h86v23h-86zM941 403v21h84v-21z" fill="#000" fill-rule="evenodd"/><path d="M1248 403h104v21h-104zM1249 404v19h102v-19z" fill="#000" fill-rule="evenodd"/></g><line x1="372.5" y1="102.5" x2="1357" y2="269" stroke="#e02222" stroke-width="1.5"/><circle cx="374.5" cy="106" r="25.7" fill="none" stroke="#555" stroke-width="1"/><circle cx="463.3" cy="117.5" r="24.3" fill="none" stroke="#555" stroke-width="1"/><circle cx="861.3" cy="185.5" r="29.5" fill="none" stroke="#555" stroke-width="1"/><g shape-rendering="crispEdges"><rect x="1" y="632" width="1390" height="1" fill="#b03030"/><rect x="1" y="696" width="1390" height="1" fill="#207020"/></g><polyline points="0,688.1 3.6,690.5 10,681.1 16,681.1 21.6,682.5 28.6,716.2 39.1,714.8 46.1,713.8 52.5,709.8 58.5,699.7 64.5,681.1 70.5,660.1 76.5,639.1 82.5,629 88.1,638.1 94.5,660.1 101.1,681.1 107.2,678.5 113.2,676.1 118.6,677.7 124.6,672.5 131.2,666.1 137.2,673.1 143.2,690.1 149.2,707.2 155.2,708.8 161.2,698.1 167.2,695.1 173.2,691.7 179.3,697.5 185.3,692.1 191.3,672.1 197.3,653.1 203.3,642.1 209.3,648.1 215.3,669.1 221.3,669.5 227.3,670.5 233.3,645.7 239.3,651.1 245.3,661.1 252,682.1 258,698.1 264,692.1 270,687.1 276,666.1 280,653.1 288,629 294,622.4 300,615 306,615 312,619 318.1,634 324.5,651.1 330.1,647.1 336.1,640.1 342.1,622 348.1,618.4 354.1,618 360.1,621 366.5,623.6 372.5,622 378.5,625 384.5,629 390.6,648.1 397.2,669.1 403.2,685.1 409.2,688.5 415.2,685.1 421.2,676.1 427.2,662.1 433.2,648.1 439.2,637.1 445.2,631.6 451.2,632 457.2,627.6 462.3,626.4 468.3,631 475.3,658.1 481.3,676.1 487.3,690.5 493.3,681.1 499.3,678.1 505.3,677.1 511.3,682.1 517.3,698.1 523.3,702.1 529.3,708.2 535.4,709.8 541.4,707.2 547.4,700.1 553.4,691.7 559.4,693.7 566,689.1 572,686.5 578,686.1 584,694.1 590,704.5 596.1,702.1 602.1,692.5 608.1,687.1 614.1,689.1 620.1,693.7 627.1,698.1 633.1,701.7 637.1,701.7 644.1,693.1 650.1,691.7 656.1,697.1 662.5,702.5 669.2,693.1 675.2,673.5 681.2,675.1 687.2,684.1 693.2,697.1 699.2,686.1 705.2,676.1 711.2,652.1 717.2,637.1 723.2,626 729.2,630.4 736.2,638.5 741.3,639.1 747.3,627 753.3,619 759.3,618.4 765.3,621 771.3,625 777.3,628 784.3,640.7 790.3,641.1 795.3,642.1 801.3,646.1 807.3,658.1 814,673.1 819.4,665.7 825.4,658.1 831.4,643.1 838,628.4 845,626 851,624.4 857,623.6 862,621 868,632 874,654.1 880.1,678.1 886.1,698.1 892.1,709.2 898.1,712.2 904.1,713.2 910.1,713.8 916.1,702.1 922.1,683.1 928.1,664.1 933.1,665.1 940.1,657.1 946.1,667.1 952.2,680.1 958.2,703.1 964.6,716.2 970.2,714.6 976.2,709.2 982.2,705.7 988.2,703.7 994.2,698.1 1000.2,680.1 1006.2,647.1 1012.2,639.1 1019.3,635.6 1025.3,641.1 1031.3,635.6 1037.3,647.7 1043.3,647.1 1049.3,671.1 1055.3,684.1 1061.3,708.2 1067.3,704.1 1073.3,692.5 1079.3,693.1 1085.3,698.1 1092.4,709.8 1098.4,709.2 1103.4,709.8 1109.4,703.1 1116,702.5 1122,704.1 1128,709.8 1134,713.2 1140,711.2 1146.1,698.1 1152.1,672.1 1158.1,648.1 1164.1,645.7 1170.1,662.5 1176.1,668.1 1182.1,668.1 1188.1,650.1 1194.1,662.1 1200.1,667.1 1206.1,675.1 1212.1,677.1 1218.2,688.1 1224.2,693.1 1230.2,686.5 1236.2,685.7 1242.2,694.1 1248.2,693.1 1254.2,675.1 1260.2,648.1 1266.2,625 1272.2,623.6 1278.2,621.6 1284.2,634 1290.3,658.1 1297.3,686.5 1303.3,687.5 1309.3,686.5 1315.3,669.1 1321.3,651.7" fill="none" stroke="#1d6d2d" stroke-width="1.45" stroke-linejoin="round"/><polyline points="4,680.5 10,685.7 16,684.1 22,681.7 28,692.1 34,704.1 40.1,714.8 46.1,715.2 52.5,713.2 58.5,708.2 64.5,697.1 70.5,680.1 76.5,660.1 82.5,643.1 88.5,636.1 94.5,645.1 101.1,662.1 107.2,675.1 113.2,678.5 118.6,677.7 124.6,675.7 131.2,672.5 137.2,670.1 143.2,677.1 149.2,689.1 155.2,702.1 161.2,704.7 167.2,701.1 173.2,695.1 179.3,694.1 185.3,693.7 191.3,687.1 197.3,672.5 203.3,656.1 209.3,647.7 215.3,652.5 221.3,661.1 227.3,669.7 233.3,662.1 239.3,655.1 245.3,653.1 252,665.1 258,680.1 264,691.1 270,692.5 276,682.1 280,671.1 286,650.1 292,633 299,622 306,617.6 312,617 318.1,624 324.5,636.1 330.1,644.1 336.5,646.1 342.1,636.1 348.1,626 354.1,618.4 360.1,619.6 366.5,621 372.5,621.6 378.5,623 384.5,625 390.6,635 397.2,649.1 403.2,667.1 409.2,680.1 415.2,686.1 421.2,683.1 427.2,674.5 433.2,661.7 439.2,649.1 445.2,639.1 451.2,634 457.2,630.4 463.3,629.6 469.3,630 475.3,640.1 481.3,658.1 487.3,675.1 493.3,683.1 499.3,683.7 505.3,679.1 511.3,679.7 517.3,686.1 523.3,694.1 529.3,703.1 535.4,707.2 541.4,708.6 547.4,705.1 553.4,699.7 559.4,695.7 566,692.1 572,689.1 578,686.7 584,689.1 590,694.5 596.1,699.7 602.1,700.1 608.1,694.1 614.1,689.7 620.1,690.1 627.1,693.5 633.1,698.1 639.1,700.7 644.1,698.7 650.1,695.7 656.1,694.1 662.5,697.1 669.2,697.5 675.2,690.1 681.2,681.1 687.2,677.7 693.2,685.1 699.2,688.7 705.2,686.1 711.2,671.1 717.2,654.1 723.2,638.1 729.2,631 736.2,632 741.3,636.1 747.3,635 753.3,628 759.3,621.6 765.3,619.6 771.3,621.6 777.3,625 784.3,631.6 790.3,637.1 795.3,640.1 801.3,643.1 807.3,649.1 814,659.1 819.4,665.1 825.4,665.7 831.4,655.7 838,643.1 845,631 851,625.6 857,624 862,623 868,626 874,637.1 880.1,656.1 886.1,677.1 892.1,696.1 898.1,707.2 904.1,712.2 910.1,713.8 916.1,709.8 922.1,699.1 928.1,683.1 934.1,669.7 940.1,662.5 946.1,663.1 952.2,668.1 958.2,684.1 964.6,700.1 970.2,711.2 976.2,713.2 982.2,709.8 988.2,706.1 994.2,701.1 1000.2,693.1 1006.2,676.1 1012.2,656.1 1019.3,640.1 1025.3,638.5 1031.3,637.1 1037.3,641.1 1043.3,643.1 1049.3,655.1 1055.3,668.1 1061.3,687.1 1067.3,698.1 1073.3,701.1 1079.3,697.1 1085.3,695.7 1092.4,701.1 1098.4,707.2 1103.4,709.8 1109.4,707.8 1116,704.7 1122,703.1 1128,705.7 1134,709.8 1140,711.2 1146.1,707.2 1152.1,693.1 1158.1,673.1 1164.1,655.1 1170.1,652.5 1176.1,659.1 1182.1,666.1 1188.1,662.1 1194.1,659.7 1200.1,659.1 1206.1,667.7 1212.1,672.1 1218.2,680.1 1224.2,686.1 1230.2,689.7 1236.2,688.1 1242.2,688.7 1248.2,691.1 1254.2,687.7 1260.2,671.1 1266.2,648.1 1272.2,632 1278.2,623.6 1284.2,627 1290.3,638.1 1297.3,660.1 1303.3,677.1 1309.3,686.5 1315.3,681.7 1321.3,669.1" fill="none" stroke="#e81c1c" stroke-width="1.45" stroke-linejoin="round"/><g shape-rendering="crispEdges" fill="#000"><rect x="0" y="0" width="1438" height="1" fill="#000"/><rect x="0" y="0" width="1" height="751" fill="#000"/><rect x="1437" y="0" width="1" height="751" fill="#000"/><rect x="1390" y="0" width="1" height="751" fill="#000"/><rect x="0" y="610" width="1438" height="1" fill="#000"/><rect x="0" y="721" width="1438" height="1" fill="#000"/><rect x="0" y="736" width="1391" height="1" fill="#000"/><rect x="0" y="750" width="1438" height="1" fill="#000"/><rect x="1391" y="8" width="2" height="1" fill="#000"/><rect x="1391" y="14" width="2" height="1" fill="#000"/><rect x="1391" y="20" width="2" height="1" fill="#000"/><rect x="1391" y="26" width="2" height="1" fill="#000"/><rect x="1391" y="32" width="2" height="1" fill="#000"/><rect x="1391" y="39" width="2" height="1" fill="#000"/><rect x="1391" y="45" width="2" height="1" fill="#000"/><rect x="1391" y="51" width="5" height="1" fill="#000"/><rect x="1391" y="57" width="2" height="1" fill="#000"/><rect x="1391" y="63" width="2" height="1" fill="#000"/><rect x="1391" y="70" width="2" height="1" fill="#000"/><rect x="1391" y="76" width="2" height="1" fill="#000"/><rect x="1391" y="82" width="2" height="1" fill="#000"/><rect x="1391" y="88" width="2" height="1" fill="#000"/><rect x="1391" y="94" width="2" height="1" fill="#000"/><rect x="1391" y="101" width="2" height="1" fill="#000"/><rect x="1391" y="107" width="2" height="1" fill="#000"/><rect x="1391" y="113" width="5" height="1" fill="#000"/><rect x="1391" y="119" width="2" height="1" fill="#000"/><rect x="1391" y="125" width="2" height="1" fill="#000"/><rect x="1391" y="132" width="2" height="1" fill="#000"/><rect x="1391" y="138" width="2" height="1" fill="#000"/><rect x="1391" y="144" width="2" height="1" fill="#000"/><rect x="1391" y="150" width="2" height="1" fill="#000"/><rect x="1391" y="156" width="2" height="1" fill="#000"/><rect x="1391" y="163" width="2" height="1" fill="#000"/><rect x="1391" y="169" width="2" height="1" fill="#000"/><rect x="1391" y="175" width="5" height="1" fill="#000"/><rect x="1391" y="181" width="2" height="1" fill="#000"/><rect x="1391" y="187" width="2" height="1" fill="#000"/><rect x="1391" y="194" width="2" height="1" fill="#000"/><rect x="1391" y="200" width="2" height="1" fill="#000"/><rect x="1391" y="206" width="2" height="1" fill="#000"/><rect x="1391" y="212" width="2" height="1" fill="#000"/><rect x="1391" y="218" width="2" height="1" fill="#000"/><rect x="1391" y="225" width="2" height="1" fill="#000"/><rect x="1391" y="231" width="2" height="1" fill="#000"/><rect x="1391" y="237" width="5" height="1" fill="#000"/><rect x="1391" y="243" width="2" height="1" fill="#000"/><rect x="1391" y="249" width="2" height="1" fill="#000"/><rect x="1391" y="256" width="2" height="1" fill="#000"/><rect x="1391" y="262" width="2" height="1" fill="#000"/><rect x="1391" y="268" width="2" height="1" fill="#000"/><rect x="1391" y="274" width="2" height="1" fill="#000"/><rect x="1391" y="280" width="2" height="1" fill="#000"/><rect x="1391" y="287" width="2" height="1" fill="#000"/><rect x="1391" y="293" width="2" height="1" fill="#000"/><rect x="1391" y="299" width="5" height="1" fill="#000"/><rect x="1391" y="305" width="2" height="1" fill="#000"/><rect x="1391" y="311" width="2" height="1" fill="#000"/><rect x="1391" y="318" width="2" height="1" fill="#000"/><rect x="1391" y="324" width="2" height="1" fill="#000"/><rect x="1391" y="330" width="2" height="1" fill="#000"/><rect x="1391" y="336" width="2" height="1" fill="#000"/><rect x="1391" y="342" width="2" height="1" fill="#000"/><rect x="1391" y="349" width="2" height="1" fill="#000"/><rect x="1391" y="355" width="2" height="1" fill="#000"/><rect x="1391" y="361" width="5" height="1" fill="#000"/><rect x="1391" y="367" width="2" height="1" fill="#000"/><rect x="1391" y="373" width="2" height="1" fill="#000"/><rect x="1391" y="380" width="2" height="1" fill="#000"/><rect x="1391" y="386" width="2" height="1" fill="#000"/><rect x="1391" y="392" width="2" height="1" fill="#000"/><rect x="1391" y="398" width="2" height="1" fill="#000"/><rect x="1391" y="404" width="2" height="1" fill="#000"/><rect x="1391" y="411" width="2" height="1" fill="#000"/><rect x="1391" y="417" width="2" height="1" fill="#000"/><rect x="1391" y="423" width="5" height="1" fill="#000"/><rect x="1391" y="429" width="2" height="1" fill="#000"/><rect x="1391" y="435" width="2" height="1" fill="#000"/><rect x="1391" y="442" width="2" height="1" fill="#000"/><rect x="1391" y="448" width="2" height="1" fill="#000"/><rect x="1391" y="454" width="2" height="1" fill="#000"/><rect x="1391" y="460" width="2" height="1" fill="#000"/><rect x="1391" y="466" width="2" height="1" fill="#000"/><rect x="1391" y="473" width="2" height="1" fill="#000"/><rect x="1391" y="479" width="2" height="1" fill="#000"/><rect x="1391" y="485" width="5" height="1" fill="#000"/><rect x="1391" y="491" width="2" height="1" fill="#000"/><rect x="1391" y="497" width="2" height="1" fill="#000"/><rect x="1391" y="504" width="2" height="1" fill="#000"/><rect x="1391" y="510" width="2" height="1" fill="#000"/><rect x="1391" y="516" width="2" height="1" fill="#000"/><rect x="1391" y="522" width="2" height="1" fill="#000"/><rect x="1391" y="528" width="2" height="1" fill="#000"/><rect x="1391" y="535" width="2" height="1" fill="#000"/><rect x="1391" y="541" width="2" height="1" fill="#000"/><rect x="1391" y="547" width="5" height="1" fill="#000"/><rect x="1391" y="553" width="2" height="1" fill="#000"/><rect x="1391" y="559" width="2" height="1" fill="#000"/><rect x="1391" y="566" width="2" height="1" fill="#000"/><rect x="1391" y="572" width="2" height="1" fill="#000"/><rect x="1391" y="578" width="2" height="1" fill="#000"/><rect x="1391" y="584" width="2" height="1" fill="#000"/><rect x="1391" y="590" width="2" height="1" fill="#000"/><rect x="1391" y="597" width="2" height="1" fill="#000"/><rect x="1391" y="603" width="2" height="1" fill="#000"/><rect x="1391" y="718" width="6" height="1" fill="#000"/><rect x="1391" y="713" width="2" height="1" fill="#000"/><rect x="1391" y="707" width="2" height="1" fill="#000"/><rect x="1391" y="702" width="2" height="1" fill="#000"/><rect x="1391" y="696" width="2" height="1" fill="#000"/><rect x="1391" y="691" width="2" height="1" fill="#000"/><rect x="1391" y="686" width="2" height="1" fill="#000"/><rect x="1391" y="680" width="2" height="1" fill="#000"/><rect x="1391" y="675" width="2" height="1" fill="#000"/><rect x="1391" y="670" width="2" height="1" fill="#000"/><rect x="1391" y="664" width="6" height="1" fill="#000"/><rect x="1391" y="659" width="2" height="1" fill="#000"/><rect x="1391" y="654" width="2" height="1" fill="#000"/><rect x="1391" y="648" width="2" height="1" fill="#000"/><rect x="1391" y="643" width="2" height="1" fill="#000"/><rect x="1391" y="637" width="2" height="1" fill="#000"/><rect x="1391" y="632" width="2" height="1" fill="#000"/><rect x="1391" y="627" width="2" height="1" fill="#000"/><rect x="1391" y="621" width="2" height="1" fill="#000"/><rect x="1391" y="616" width="2" height="1" fill="#000"/><rect x="46" y="721" width="1" height="16" fill="#000"/><rect x="100" y="721" width="1" height="16" fill="#000"/><rect x="149" y="721" width="1" height="16" fill="#000"/><rect x="204" y="721" width="1" height="16" fill="#000"/><rect x="257" y="721" width="1" height="16" fill="#000"/><rect x="306" y="721" width="1" height="16" fill="#000"/><rect x="360" y="721" width="1" height="16" fill="#000"/><rect x="415" y="721" width="1" height="16" fill="#000"/><rect x="463" y="721" width="1" height="16" fill="#000"/><rect x="518" y="721" width="1" height="16" fill="#000"/><rect x="572" y="721" width="1" height="16" fill="#000"/><rect x="626" y="721" width="1" height="16" fill="#000"/><rect x="675" y="721" width="1" height="16" fill="#000"/><rect x="729" y="721" width="1" height="16" fill="#000"/><rect x="778" y="721" width="1" height="16" fill="#000"/><rect x="832" y="721" width="1" height="16" fill="#000"/><rect x="886" y="721" width="1" height="16" fill="#000"/><rect x="940" y="721" width="1" height="16" fill="#000"/><rect x="989" y="721" width="1" height="16" fill="#000"/><rect x="1044" y="721" width="1" height="16" fill="#000"/><rect x="1097" y="721" width="1" height="16" fill="#000"/><rect x="1146" y="721" width="1" height="16" fill="#000"/><rect x="1200" y="721" width="1" height="16" fill="#000"/><rect x="1255" y="721" width="1" height="16" fill="#000"/><rect x="1309" y="721" width="1" height="16" fill="#000"/><rect x="1363" y="721" width="1" height="16" fill="#000"/><rect x="100" y="736" width="1" height="15" fill="#000"/><rect x="415" y="736" width="1" height="15" fill="#000"/><rect x="729" y="736" width="1" height="15" fill="#000"/><rect x="1044" y="736" width="1" height="15" fill="#000"/></g></svg>
<svg style="position:absolute;left:0;top:0" width="210" height="230" viewBox="0 0 210 230">
<!-- left plate -->
<g transform="rotate(13 27 84)">
<rect x="2" y="80" width="12" height="6" rx="2" fill="#3c4864" stroke="#10142a" stroke-width="1"/>
<ellipse cx="24" cy="84" rx="17" ry="34" fill="#46557a" stroke="#0d1226" stroke-width="1.6"/>
<ellipse cx="26.500" cy="84" rx="15" ry="32.500" fill="#5a6a8c"/>
<ellipse cx="33" cy="84" rx="12.500" ry="30.500" fill="#131a32"/>
</g>
<!-- right plate -->
<g transform="rotate(9 174 127)">
<ellipse cx="172" cy="127" rx="17" ry="37" fill="#46557a" stroke="#0d1226" stroke-width="1.6"/>
<ellipse cx="178" cy="127" rx="13" ry="33" fill="#151c34"/>
<ellipse cx="175" cy="127" rx="7" ry="27" fill="none" stroke="#56668a" stroke-width="3"/>
<ellipse cx="180" cy="127" rx="7" ry="25" fill="#151c34"/>
<rect x="182" y="126" width="17" height="6" rx="1.5" fill="#3c4864" stroke="#10142a" stroke-width="1"/>
</g>
<!-- legs -->
<path d="M54 190 L46 200 L55 212 L66 209 L64 198 Z" fill="#f7c3c3" stroke="#1a1010" stroke-width="1"/>
<path d="M46 214 L50 210 L63 208 L68 213 L48 216 Z" fill="#0a0a18"/>
<path d="M117 197 L121 207 L136 208 L127 195 Z" fill="#f7c3c3" stroke="#1a1010" stroke-width="1"/>
<path d="M126 208 L150 208 L146 211 L137 215 L129 212 Z" fill="#0a0a18"/>
<!-- shorts -->
<path d="M54 186 L121 184 L125 194 L112 203 L101 196 L74 194 L63 200 L55 193 Z" fill="#0b0b16"/>
<!-- left hand / arm -->
<path d="M33 82 Q38 76 50 80 L54 90 L46 97 L44 112 L38 110 L34 96 Z" fill="#f7c3c3" stroke="#1a1010" stroke-width="1"/>
<!-- head -->
<path d="M77 80 L76 68 Q84 50 100 37 Q112 26 124 27 Q140 30 149 42 Q154 52 151 66 Q153 74 147 79 Q144 82 142 86 L137 100 L110 96 L80 82 Z" fill="#f9c4c6" stroke="#15101a" stroke-width="1.6" stroke-linejoin="round"/>
<!-- hair -->
<path d="M121 27.500 Q132 28.500 141.500 35.500 Q149 42 152.500 51 Q153 59 149 67 L141 69.500 Q143.500 60 144 50 Q142.500 43 136.500 38 Q130 33.500 123.500 31.500 Z" fill="#0a0a14"/>
<!-- ear -->
<path d="M142 70 Q150 64 150 72 Q148 80 143 82" fill="#f9c4c6" stroke="#15101a" stroke-width="1.2"/>
<!-- face lines -->
<path d="M81 70 Q88 56 101 46" fill="none" stroke="#0a0a14" stroke-width="2.4" stroke-linecap="round"/>
<path d="M101 46 Q110 56 126 56" fill="none" stroke="#0a0a14" stroke-width="1.4" stroke-linecap="round"/>
<path d="M112 35 Q118 36 116 41 Q112 43 110 47" fill="none" stroke="#0a0a14" stroke-width="1.6" stroke-linecap="round"/>
<path d="M125 43 Q129 40 133 43" fill="none" stroke="#0a0a14" stroke-width="1.6" stroke-linecap="round"/>
<circle cx="129.500" cy="47" r="1.3" fill="#0a0a14"/>
<!-- neck shadow -->
<path d="M142 84 L137 100 L133 98 Z" fill="#0a0a14"/>
<!-- bill outer -->
<path d="M64 76 L136 100 Q120 122 114 144 Q112 166 121 185 L54 187 Q40 168 34.500 149 Q32 126 40 104 Q50 90 64 76 Z" fill="#3d8a3f" stroke="#0c2a10" stroke-width="1.4" stroke-linejoin="round"/>
<!-- bill inner -->
<path d="M58 100 L110 113 Q102 131 99 153 Q99 165 101 174 L61 175 Q52 160 48.500 144 Q48 122 58 100 Z" fill="#3ae642"/>
<!-- ornament borders (dotted look) -->
<path d="M44 110 Q37 130 39 150 Q44 168 56 182" fill="none" stroke="#1d5423" stroke-width="3.600" stroke-dasharray="1.800 1"/>
<path d="M123 112 Q110 135 108 152 Q108 168 113 180" fill="none" stroke="#1d5423" stroke-width="3.600" stroke-dasharray="1.800 1"/>
<path d="M69 180 L96 178" fill="none" stroke="#1d5423" stroke-width="3.600" stroke-dasharray="1.800 1"/>
<path d="M80 88 L112 99" fill="none" stroke="#1d5423" stroke-width="3.600" stroke-dasharray="1.800 1"/>
<!-- coins -->
<g stroke="#14300f" stroke-width="0.800" fill="#e4e23c">
<ellipse cx="72" cy="86.500" rx="6.500" ry="4.300" transform="rotate(18 72 86.500)"/>
<ellipse cx="120" cy="103" rx="6.500" ry="4.300" transform="rotate(18 120 103)"/>
<ellipse cx="59.500" cy="179.500" rx="7.300" ry="4.800" transform="rotate(-5 59.500 179.500)"/>
<ellipse cx="104" cy="177.500" rx="7.300" ry="4.800" transform="rotate(-5 104 177.500)"/>
</g>
<g fill="none" stroke="#8a8a20" stroke-width="0.900">
<ellipse cx="72" cy="86.500" rx="3.600" ry="2" transform="rotate(18 72 86.500)"/>
<ellipse cx="120" cy="103" rx="3.600" ry="2" transform="rotate(18 120 103)"/>
<ellipse cx="59.500" cy="179.500" rx="4" ry="2.200"/>
<ellipse cx="104" cy="177.500" rx="4" ry="2.200"/>
</g>
<!-- dollar sign -->
<g transform="translate(73.500 136.500) skewX(-9)">
<text x="0" y="0" font-family="Liberation Sans" font-weight="bold" font-size="56" text-anchor="middle" dominant-baseline="central" fill="#0b0b18" stroke="#0b0b18" stroke-width="2.600" transform="scale(0.900 1)">S</text>
<path d="M-4.200 -29 V29 M3.800 -29 V29" stroke="#0b0b18" stroke-width="3.200" fill="none"/>
<path d="M-0.200 -14 V12" stroke="#3ae642" stroke-width="1.500" fill="none"/>
</g>
<!-- bar -->
<path d="M48 87.300 L140 112.200 L138.600 117.600 L46.600 92.700 Z" fill="#3f4c6a" stroke="#0c1024" stroke-width="1"/>
<!-- left fist over bar -->
<path d="M32 84 Q34 78 42 78 Q50 79 52 86 Q52 92 46 93 Q38 94 33 90 Z" fill="#f7c3c3" stroke="#1a1010" stroke-width="1"/>
<path d="M38 80 L37 86 M42 80 L41 87 M46 81 L45 88" stroke="#1a1010" stroke-width="0.900" fill="none"/>
<!-- right hand -->
<path d="M126 112 Q131 108 137 110 L139 106 L142 109 L145 106.500 L148 110 L151 108 L153 112 L157 112 Q159 120 157 126 Q152 136 142 136 Q134 136 129 130 Q124 122 126 112 Z" fill="#f7c3c3" stroke="#1a1010" stroke-width="1.200" stroke-linejoin="round"/>
<path d="M144 115 L143 122 M148 116 L147 123 M152 117 L151 123" stroke="#1a1010" stroke-width="0.900" fill="none"/>
<path d="M131 118 Q134 126 140 128 M136 122 Q137 116 133 114" stroke="#1a1010" stroke-width="1.100" fill="none"/>
<path d="M157 118 L160 119 L160 124 L157 124 Z" fill="#3b4866"/>
</svg>

<div class="t" style="left:1399px;top:45px;font-size:11px;color:#222;font-weight:normal;">28,00</div><div class="t" style="left:1399px;top:107px;font-size:11px;color:#222;font-weight:normal;">27,00</div><div class="t" style="left:1399px;top:169px;font-size:11px;color:#222;font-weight:normal;">26,00</div><div class="t" style="left:1399px;top:231px;font-size:11px;color:#222;font-weight:normal;">25,00</div><div class="t" style="left:1399px;top:293px;font-size:11px;color:#222;font-weight:normal;">24,00</div><div class="t" style="left:1399px;top:355px;font-size:11px;color:#222;font-weight:normal;">23,00</div><div class="t" style="left:1399px;top:417px;font-size:11px;color:#222;font-weight:normal;">22,00</div><div class="t" style="left:1399px;top:479px;font-size:11px;color:#222;font-weight:normal;">21,00</div><div class="t" style="left:1399px;top:541px;font-size:11px;color:#222;font-weight:normal;">20,00</div><div class="t" style="left:1399px;top:658px;font-size:11px;color:#222;font-weight:normal;">50,00</div><div class="b" style="top:329px;color:#c02020;background:#fde6d8;border-color:#c04040">23,37</div><div class="b" style="top:389px;color:#2020a0;background:#ffffff;border-color:#222">22,41</div><div class="b" style="top:405px;color:#c02020;background:#fde6d8;border-color:#c04040">22,16</div><div class="b" style="top:624px;color:#c02020;background:#fde6d8;border-color:#c04040">80,00</div><div class="b" style="top:688px;color:#c02020;background:#fde6d8;border-color:#c04040">20,00</div><div class="m" style="left:-3px;top:722px;width:46px;letter-spacing:0.25px">szept.</div><div class="m" style="left:46px;top:722px;width:54px;letter-spacing:0.25px">nov.</div><div class="m" style="left:100px;top:722px;width:49px;letter-spacing:0.25px">jan.</div><div class="m" style="left:149px;top:722px;width:55px;letter-spacing:0.25px">márc.</div><div class="m" style="left:204px;top:722px;width:53px;letter-spacing:0.25px">máj.</div><div class="m" style="left:257px;top:722px;width:49px;letter-spacing:0.25px">júl.</div><div class="m" style="left:306px;top:722px;width:54px;letter-spacing:0.25px">szept.</div><div class="m" style="left:360px;top:722px;width:55px;letter-spacing:0.25px">nov.</div><div class="m" style="left:415px;top:722px;width:48px;letter-spacing:0.25px">jan.</div><div class="m" style="left:463px;top:722px;width:55px;letter-spacing:0.25px">márc.</div><div class="m" style="left:518px;top:722px;width:54px;letter-spacing:0.25px">máj.</div><div class="m" style="left:572px;top:722px;width:54px;letter-spacing:0.25px">júl.</div><div class="m" style="left:626px;top:722px;width:49px;letter-spacing:0.25px">szept.</div><div class="m" style="left:675px;top:722px;width:54px;letter-spacing:0.25px">nov.</div><div class="m" style="left:729px;top:722px;width:49px;letter-spacing:0.25px">jan.</div><div class="m" style="left:778px;top:722px;width:54px;letter-spacing:0.25px">márc.</div><div class="m" style="left:832px;top:722px;width:54px;letter-spacing:0.25px">máj.</div><div class="m" style="left:886px;top:722px;width:54px;letter-spacing:0.25px">júl.</div><div class="m" style="left:940px;top:722px;width:49px;letter-spacing:0.25px">szept.</div><div class="m" style="left:989px;top:722px;width:55px;letter-spacing:0.25px">nov.</div><div class="m" style="left:1044px;top:722px;width:53px;letter-spacing:0.25px">jan.</div><div class="m" style="left:1097px;top:722px;width:49px;letter-spacing:0.25px">márc.</div><div class="m" style="left:1146px;top:722px;width:54px;letter-spacing:0.25px">máj.</div><div class="m" style="left:1200px;top:722px;width:55px;letter-spacing:0.25px">júl.</div><div class="m" style="left:1255px;top:722px;width:54px;letter-spacing:0.25px">szept.</div><div class="m" style="left:1314px;top:722px;width:60px;text-align:left">nov.</div><div class="m" style="left:30px;top:737px;width:40px;font-size:11px">2007</div><div class="m" style="left:237px;top:737px;width:40px;font-size:11px">2008</div><div class="m" style="left:551px;top:737px;width:40px;font-size:11px">2009</div><div class="m" style="left:866px;top:737px;width:40px;font-size:11px">2010</div><div class="m" style="left:1196px;top:737px;width:40px;font-size:11px">2011</div><div style="position:absolute;left:1px;top:722px;width:21px;height:14px;background:#f6f4dc;border-right:1px solid #000;font-size:11.5px;line-height:14px;color:#222;overflow:hidden;white-space:nowrap;letter-spacing:0.2px"><span style="margin-left:-2px">.13.</span></div><div style="position:absolute;left:2px;top:2px;width:15px;height:15px;background:#d6d3cb;border:1px solid #222;box-sizing:content-box"></div><svg style="position:absolute;left:5px;top:8px" width="11" height="6"><path d="M0 0h11L5.5 6z" fill="#000"/></svg><svg style="position:absolute;left:26px;top:3px" width="16" height="16"><defs><linearGradient id="g26" x1="0" y1="0" x2="1" y2="1"><stop offset="0" stop-color="#2b9a48"/><stop offset="0.55" stop-color="#3aa54a"/><stop offset="0.72" stop-color="#c8a030"/><stop offset="0.85" stop-color="#e8882a"/><stop offset="1" stop-color="#e2601a"/></linearGradient></defs><rect width="16" height="16" fill="url(#g26)"/><text x="2.2" y="10.5" font-family="Liberation Sans" font-weight="bold" font-size="9" fill="#fff" transform="scale(0.82 1)" textLength="11">Eo</text><text x="11" y="15.5" font-family="Liberation Sans" font-weight="bold" font-size="5" fill="#fff">E</text></svg><svg style="position:absolute;left:131px;top:3px" width="16" height="16"><defs><linearGradient id="g131" x1="0" y1="0" x2="1" y2="1"><stop offset="0" stop-color="#2b9a48"/><stop offset="0.55" stop-color="#3aa54a"/><stop offset="0.72" stop-color="#c8a030"/><stop offset="0.85" stop-color="#e8882a"/><stop offset="1" stop-color="#e2601a"/></linearGradient></defs><rect width="16" height="16" fill="url(#g131)"/><text x="2.2" y="10.5" font-family="Liberation Sans" font-weight="bold" font-size="9" fill="#fff" transform="scale(0.82 1)" textLength="11">Eo</text><text x="11" y="15.5" font-family="Liberation Sans" font-weight="bold" font-size="5" fill="#fff">E</text></svg><div class="t" style="left:43px;top:4px;font-size:11px;color:#1e1e8a;font-weight:normal;">UUP:arcx Heti</div><svg style="position:absolute;left:114px;top:8px" width="6" height="4"><path d="M0 0h6L3 3.5z" fill="#1c1cb0"/></svg><div class="t" style="left:147px;top:4px;font-size:11px;color:#1f6f2f;font-weight:normal;">SPY:arcx</div><svg style="position:absolute;left:195px;top:8px" width="6" height="4"><path d="M0 0h6L3 3.5z" fill="#1f6f2f"/></svg><div class="t" style="left:27px;top:613px;font-size:10.5px;color:#2a7a3a;font-weight:normal;">PKS 8; 3; 3</div><svg style="position:absolute;left:84px;top:618px" width="6" height="4"><path d="M0 0h6L3 3.5z" fill="#1f5f2f"/></svg><div style="position:absolute;left:1362px;top:4px;width:9px;height:6px;border:1px solid #000;border-top-width:2px"></div><div style="position:absolute;left:1362px;top:614px;width:9px;height:5px;border:1px solid #000;border-top-width:2px"></div><svg style="position:absolute;left:1377px;top:613px" width="11" height="11"><path d="M1.5 1.5L9.5 9.5M9.5 1.5L1.5 9.5" stroke="#000" stroke-width="2"/></svg><div class="t" style="left:1053px;top:102px;font-size:27.5px;color:#27a84a;font-weight:bold;letter-spacing:-0.3px">SPY - S&amp;P 500</div><div class="t" style="left:1077px;top:501px;font-size:27.5px;color:#3648b8;font-weight:bold;letter-spacing:0.25px">UUP - Dollár Index</div><div class="t" style="left:1179px;top:213px;font-size:42.5px;color:#e8212b;font-weight:bold;">3</div><div class="t" style="left:1181px;top:315.5px;font-size:42.5px;color:#e8212b;font-weight:bold;">2</div><div class="t" style="left:1185px;top:388px;font-size:42.5px;color:#e8212b;font-weight:bold;">1</div>
</div></body></html>
